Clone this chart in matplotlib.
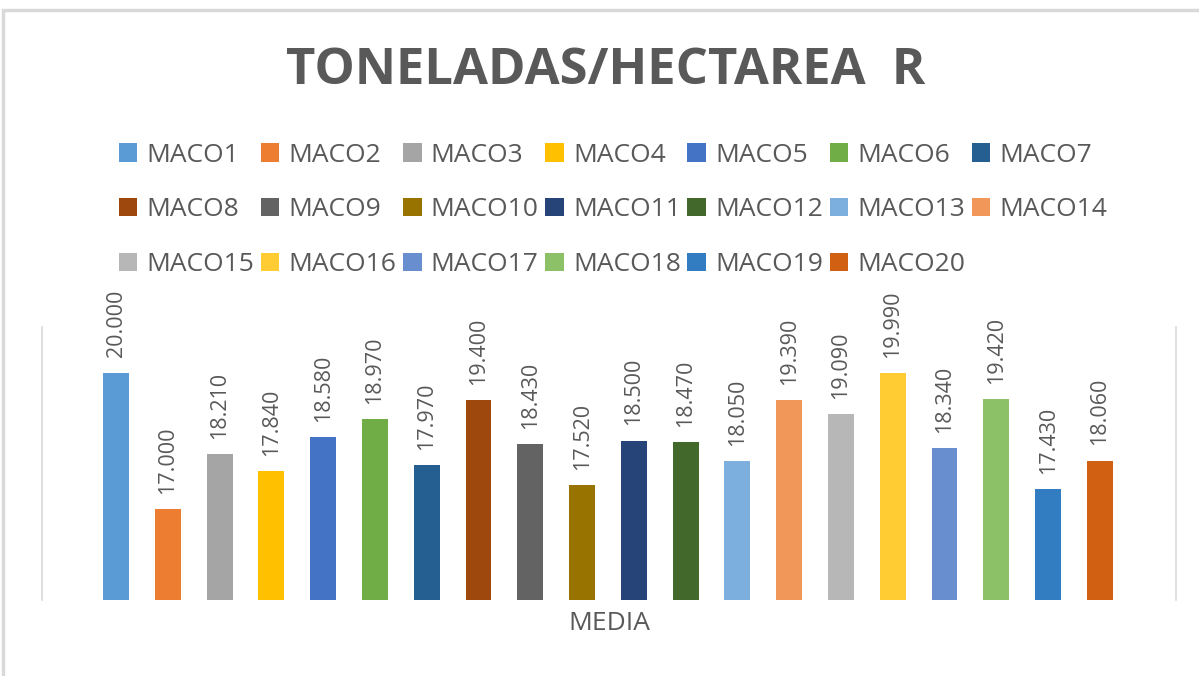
import matplotlib
matplotlib.use("Agg")
import matplotlib.pyplot as plt
import numpy as np
from matplotlib.patches import Rectangle

series_names = [f"MACO{i}" for i in range(1, 21)]
values = [20.000, 17.000, 18.210, 17.840, 18.580, 18.970, 17.970, 19.400, 18.430, 17.520,
          18.500, 18.470, 18.050, 19.390, 19.090, 19.990, 18.340, 19.420, 17.430, 18.060]
colors = ["#5B9BD5", "#ED7D31", "#A5A5A5", "#FFC000", "#4472C4", "#70AD47", "#255E91",
          "#9E480E", "#636363", "#997300", "#264478", "#43682B", "#7CAFDD", "#F1975A",
          "#B7B7B7", "#FFCD33", "#698ED0", "#8CC168", "#327DC2", "#D26012"]
category = "MEDIA"
title = "TONELADAS/HECTAREA  R"

TXT = "#595959"
W, H = 1199, 676
fig = plt.figure(figsize=(W / 100, H / 100), dpi=100)
fig.patch.set_facecolor("white")

# outer chart frame
fig.patches.append(Rectangle((3 / W, -0.1), 1.2, 1 - 10 / H + 0.1, transform=fig.transFigure,
                             fill=False, edgecolor="#d9d9d9", linewidth=2.5))

ax = fig.add_axes([42 / W, 1 - 600 / H, (1176 - 42) / W, (600 - 327) / H])
x = np.arange(len(values))
handles = []
for i, (v, c, n) in enumerate(zip(values, colors, series_names)):
    b = ax.bar(x[i], v - 15, bottom=15, width=0.5, color=c, label=n)
    handles.append(b)
    ax.annotate(f"{v:.3f}", (x[i], v), xytext=(0, 11), textcoords="offset points",
                rotation=90, ha="center", va="bottom", color=TXT, fontsize=15.5,
                family="Open Sans")

ax.set_ylim(15, 21)
ax.set_xlim(-1.43, 20.47)
ax.set_yticks([])
ax.set_xticks([])
for s in ["top", "bottom"]:
    ax.spines[s].set_visible(False)
for s in ["left", "right"]:
    ax.spines[s].set_color("#d9d9d9")
    ax.spines[s].set_linewidth(1.2)
ax.set_xlabel(category, color=TXT, fontsize=19, family="Open Sans", labelpad=8)

fig.text(606 / W, 1 - 71 / H, title, ha="center", va="center", color=TXT,
         fontsize=36.5, fontweight="bold", family="Open Sans")

order = []
for j in range(7):
    for r in range(3):
        k = r * 7 + j
        if k < len(values):
            order.append(k)
leg = fig.legend([handles[k] for k in order], [series_names[k] for k in order],
                 ncol=7, loc="center", bbox_to_anchor=(613 / W, 1 - 210 / H),
                 frameon=False, prop={"family": "Open Sans", "size": 19},
                 labelcolor=TXT, handlelength=0.7, handleheight=0.7,
                 handletextpad=0.35, columnspacing=0.25, labelspacing=1.12)

fig.savefig("out.png", dpi=100)
